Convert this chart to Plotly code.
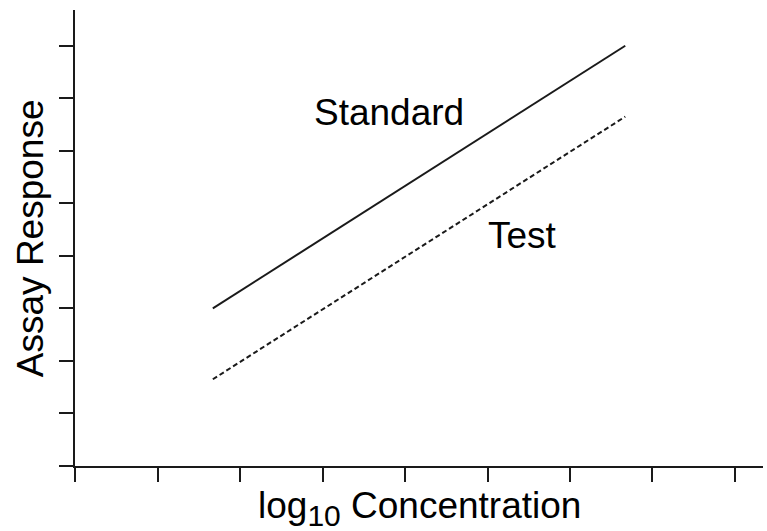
import plotly.graph_objects as go

# Data
log_conc = [1.67, 6.67]
standard = [3.0, 8.0]
test = [1.65, 6.65]
x_ticks = list(range(0, 9))
y_ticks = list(range(0, 9))

FONT = "Arial, 'Liberation Sans', sans-serif"
INK = "#1a1a1a"
FS = 37

fig = go.Figure()
fig.add_trace(go.Scatter(x=log_conc, y=standard, mode="lines", name="Standard",
                         line=dict(color=INK, width=2), showlegend=False))
fig.add_trace(go.Scatter(x=log_conc, y=test, mode="lines", name="Test",
                         line=dict(color=INK, width=2, dash="5px,3px"), showlegend=False))

fig.add_annotation(x=3.81, y=6.72, text="Standard", showarrow=False,
                   xanchor="center", yanchor="middle",
                   font=dict(family=FONT, size=FS, color="black"))
fig.add_annotation(x=5.43, y=4.39, text="Test", showarrow=False,
                   xanchor="center", yanchor="middle",
                   font=dict(family=FONT, size=FS, color="black"))

# axis titles
fig.add_annotation(xref="paper", yref="paper", x=(419 - 75) / 688, y=(465.7 - 508) / 455.7,
                   xanchor="center", yanchor="middle",
                   text="log<sub><span style='font-size:30px'>10</span></sub> Concentration",
                   showarrow=False,
                   font=dict(family=FONT, size=FS, color="black"))
fig.add_annotation(xref="paper", yref="paper", x=(30 - 75) / 688, y=(465.7 - 238) / 455.7,
                   xanchor="center", yanchor="middle",
                   text="Assay Response", textangle=-90, showarrow=False,
                   font=dict(family=FONT, size=FS, color="black"))

fig.update_xaxes(range=[-0.001, 8.34], tickvals=x_ticks, showticklabels=False,
                 showline=True, linecolor=INK, linewidth=2,
                 ticks="outside", ticklen=14, tickwidth=2, tickcolor=INK,
                 showgrid=False, zeroline=False)
fig.update_yaxes(range=[-0.001, 8.68], tickvals=y_ticks, showticklabels=False,
                 showline=True, linecolor=INK, linewidth=2,
                 ticks="outside", ticklen=14, tickwidth=2, tickcolor=INK,
                 showgrid=False, zeroline=False)

fig.update_layout(width=767, height=531, autosize=False,
                  margin=dict(l=75, r=4, t=10, b=65.3, pad=0),
                  plot_bgcolor="white", paper_bgcolor="white",
                  font=dict(family=FONT, color="black"))

fig.write_html("out.html")
